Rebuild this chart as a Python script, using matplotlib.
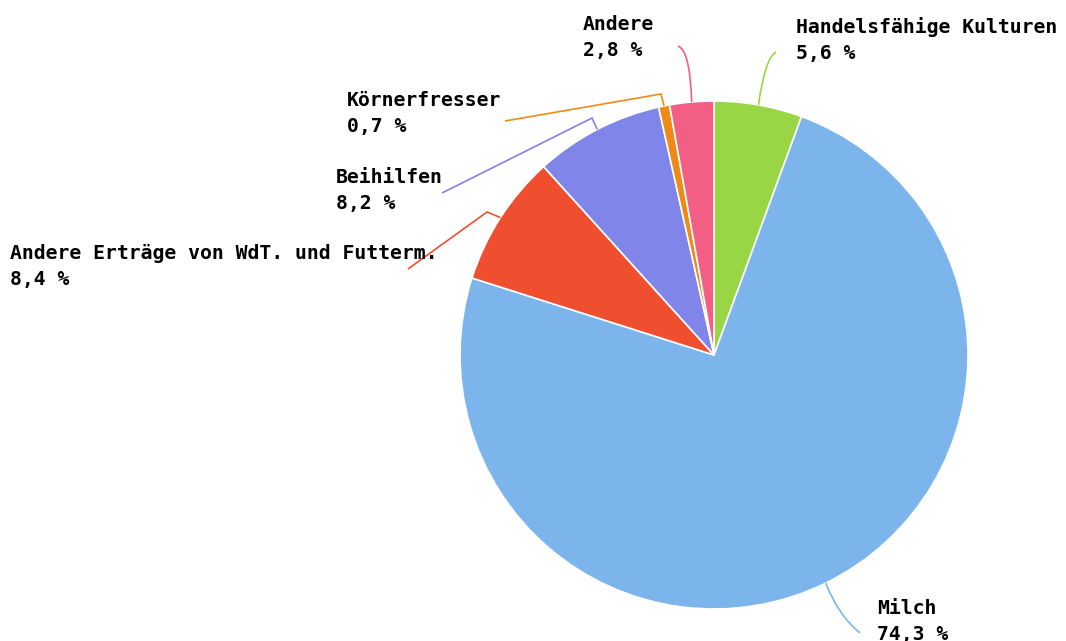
import matplotlib
matplotlib.use("Agg")
import matplotlib.pyplot as plt
import numpy as np
from matplotlib.path import Path
from matplotlib.patches import PathPatch

categories = ["Handelsfähige Kulturen", "Milch", "Andere Erträge von WdT. und Futterm.",
              "Beihilfen", "Körnerfresser", "Andere"]
values = [5.6, 74.3, 8.4, 8.2, 0.7, 2.8]
colors = ["#99d645", "#7cb5ec", "#ef4f2f", "#8086e9", "#ef8a17", "#f25e84"]

W, H = 1066, 641
fig = plt.figure(figsize=(W / 100, H / 100), dpi=100)
ax = fig.add_axes([0, 0, 1, 1])
ax.set_xlim(0, W)
ax.set_ylim(0, H)
ax.set_aspect("equal")
ax.axis("off")

cx, cy_pix, R = 714, 355, 254
cy = H - cy_pix

wedges, _ = ax.pie(values, colors=colors, startangle=90, counterclock=False,
                   center=(cx, cy), radius=R, frame=True,
                   wedgeprops=dict(edgecolor="white", linewidth=1.2))
ax.set_xlim(0, W)
ax.set_ylim(0, H)
ax.axis("off")

# label layout (pixel coords, y from top): text x, first baseline, connector waypoints
layout = {
    "Handelsfähige Kulturen": dict(x=796, y=33, pts=[(765, 58), (776, 52)], curve=True),
    "Milch": dict(x=877, y=614, pts=[(838, 615), (860, 633)], curve=True),
    "Andere Erträge von WdT. und Futterm.": dict(x=10, y=259, pts=[(487, 212), (408, 269)], curve=False),
    "Beihilfen": dict(x=336, y=183, pts=[(592, 118), (442, 193)], curve=False),
    "Körnerfresser": dict(x=347, y=106, pts=[(661, 94), (505, 121)], curve=False),
    "Andere": dict(x=583, y=30, pts=[(690, 50), (678, 46)], curve=True),
}

fs = 14.2
font = dict(family="DejaVu Sans Mono", weight="bold", fontsize=fs, color="#000000")

for w, cat, val, col in zip(wedges, categories, values, colors):
    th = np.deg2rad((w.theta1 + w.theta2) / 2)
    p0 = (cx + R * np.cos(th), cy + R * np.sin(th))
    L = layout[cat]
    pts = [p0] + [(px, H - py) for px, py in L["pts"]]
    if L["curve"]:
        codes = [Path.MOVETO, Path.CURVE3, Path.CURVE3]
    else:
        codes = [Path.MOVETO] + [Path.LINETO] * (len(pts) - 1)
    ax.add_patch(PathPatch(Path(pts, codes), facecolor="none", edgecolor=col, lw=1.2))
    ax.text(L["x"], H - L["y"], cat, ha="left", va="baseline", **font)
    ax.text(L["x"], H - L["y"] - 26, f"{val:.1f} %".replace(".", ","), ha="left",
            va="baseline", **font)

fig.savefig("out.png", dpi=100)
